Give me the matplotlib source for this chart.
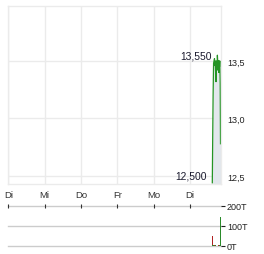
import matplotlib
matplotlib.use("Agg")
import matplotlib.pyplot as plt
import numpy as np

plt.rcParams['font.family'] = ['Liberation Sans', 'DejaVu Sans']

# ---- data ----
day_labels = ["Di", "Mi", "Do", "Fr", "Mo", "Di"]
day_pos = [0, 1, 2, 3, 4, 5]

price_t = [5.620, 5.630, 5.642, 5.655, 5.668, 5.680, 5.692, 5.702, 5.712,
           5.722, 5.732, 5.742, 5.752, 5.760, 5.768, 5.778, 5.788, 5.798,
           5.808, 5.818, 5.828, 5.838, 5.846]
price_v = [12.44, 12.80, 13.20, 13.48, 13.50, 13.52, 13.46, 13.50, 13.40,
           13.32, 13.45, 13.50, 13.42, 13.55, 13.50, 13.47, 13.50, 13.40,
           13.50, 13.45, 13.50, 13.30, 12.78]

hi_val, lo_val = 13.55, 12.50
hi_label, lo_label = "13,550", "12,500"

price_ticks = [12.5, 13.0, 13.5]
price_tick_labels = ["12,5", "13,0", "13,5"]

vol_t = [5.620, 5.640, 5.660, 5.690, 5.720, 5.750, 5.780, 5.810, 5.835]
vol_v = [52, 4, 6, 3, 5, 2, 4, 3, 146]
vol_up = [False, True, True, False, True, True, False, True, True]
vol_ticks = [0, 100, 200]
vol_tick_labels = ["0T", "100T", "200T"]

# ---- figure ----
W, H = 264, 255
fig = plt.figure(figsize=(W / 100, H / 100), dpi=100)
xl, xr = 8.3, 221.3
ax = fig.add_axes([xl / W, 1 - 185 / H, (xr - xl) / W, (185 - 7) / H])
xmax = (xr - xl) / 36.3
ax.set_xlim(0, xmax)
ax.set_ylim(12.430, 13.978)

grid_c = "#ebebeb"
for d in day_pos:
    ax.axvline(d, color=grid_c, lw=1, zorder=0)
for p in price_ticks:
    ax.axhline(p, color=grid_c, lw=1, zorder=0)
for s in ax.spines.values():
    s.set_color(grid_c)
    s.set_linewidth(1)

ax.fill_between(price_t, price_v, 12.43, color="#e2e7ec", lw=0, zorder=1)
ax.plot(price_t, price_v, color="#259425", lw=0.9, zorder=2)

txt_c = "#1a1a2e"
ax.text(price_t[0] - 0.02, hi_val, hi_label, ha="right", va="center",
        fontsize=7.4, color=txt_c)
ax.text(price_t[0] - 0.14, lo_val, lo_label, ha="right", va="center",
        fontsize=7.4, color=txt_c)

ax.yaxis.tick_right()
ax.set_yticks(price_ticks)
ax.set_yticklabels(price_tick_labels, fontsize=6.5, color="#222222")
ax.tick_params(axis="y", length=0, pad=4)
ax.set_xticks(day_pos)
ax.set_xticklabels(day_labels, fontsize=6.8, color="#333333")
ax.tick_params(axis="x", length=0, pad=4)

# ---- volume ----
vx = fig.add_axes([xl / W, 1 - 247 / H, (xr - xl) / W, (247 - 207) / H])
vx.set_xlim(0, xmax)
vx.set_ylim(0, 200)
for v in vol_ticks:
    vx.axhline(v, color="#cccccc", lw=1, zorder=0, clip_on=False)
for s in vx.spines.values():
    s.set_visible(False)
colors = ["#2a8a2a" if u else "#b22222" for u in vol_up]
vx.bar(vol_t, vol_v, width=0.03, color=colors, zorder=2)
vx.yaxis.tick_right()
vx.set_yticks(vol_ticks)
vx.set_yticklabels(vol_tick_labels, fontsize=6.5, color="#222222")
vx.tick_params(axis="y", length=3, width=0.8, color="#222222", pad=1)
vx.xaxis.tick_top()
vx.set_xticks(day_pos)
vx.set_xticklabels([])
vx.tick_params(axis="x", length=3, width=0.8, color="#333333", direction="inout")

fig.savefig("out.png", dpi=100)
